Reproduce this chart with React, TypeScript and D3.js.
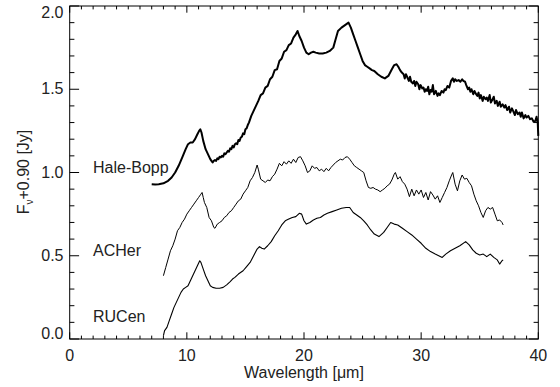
import React from "react";
import * as d3 from "d3";

const haleBoppX = [7.0,7.3,7.6,8.0,8.4,8.7,9.0,9.3,9.6,9.9,10.1,10.3,10.5,10.7,10.9,11.05,11.15,11.25,11.4,11.6,11.8,12.0,12.1,12.2,12.3,12.4,12.5,12.6,12.7,12.8,12.9,13.0,13.1,13.2,13.3,13.4,13.5,13.6,13.7,13.8,13.9,14.0,14.1,14.2,14.3,14.4,14.5,14.6,14.7,14.8,14.9,15.0,15.1,15.2,15.3,15.5,15.7,15.9,16.1,16.3,16.5,16.7,16.9,17.1,17.3,17.5,17.7,17.9,18.1,18.3,18.5,18.7,18.9,19.1,19.3,19.45,19.6,19.8,20.0,20.2,20.4,20.6,20.8,21.0,21.3,21.6,21.9,22.2,22.5,22.7,22.9,23.2,23.5,23.8,24.0,24.2,24.4,24.6,24.8,25.0,25.2,25.4,25.6,25.8,26.0,26.3,26.6,26.9,27.2,27.5,27.7,27.9,28.05,28.2,28.35,28.5,28.6,28.7,28.8,28.95,29.05,29.15,29.3,29.4,29.5,29.6,29.75,29.85,29.95,30.1,30.2,30.3,30.4,30.5,30.6,30.7,30.8,30.9,31.0,31.1,31.25,31.4,31.5,31.6,31.75,31.9,32.0,32.1,32.25,32.4,32.55,32.7,32.8,32.9,33.05,33.2,33.35,33.5,33.6,33.75,33.85,34.0,34.1,34.2,34.3,34.45,34.55,34.65,34.8,34.9,35.0,35.1,35.25,35.35,35.5,35.6,35.7,35.85,35.95,36.1,36.2,36.3,36.45,36.55,36.7,36.8,36.95,37.1,37.2,37.35,37.5,37.6,37.75,37.85,38.0,38.1,38.25,38.4,38.5,38.6,38.75,38.9,39.0,39.15,39.3,39.45,39.6,39.75,39.85,39.95,40.0];
const haleBoppY = [0.93,0.928,0.93,0.935,0.95,0.97,1.0,1.04,1.09,1.14,1.17,1.18,1.18,1.2,1.23,1.25,1.26,1.24,1.19,1.14,1.11,1.08,1.07,1.06,1.07,1.075,1.07,1.085,1.08,1.095,1.09,1.1,1.095,1.115,1.11,1.12,1.13,1.125,1.145,1.14,1.16,1.15,1.17,1.175,1.17,1.195,1.19,1.21,1.215,1.235,1.23,1.26,1.265,1.285,1.3,1.34,1.37,1.4,1.43,1.465,1.475,1.51,1.52,1.56,1.575,1.615,1.62,1.67,1.685,1.725,1.735,1.765,1.775,1.81,1.83,1.85,1.82,1.79,1.75,1.72,1.71,1.72,1.725,1.72,1.715,1.715,1.72,1.73,1.75,1.8,1.85,1.87,1.885,1.9,1.87,1.83,1.79,1.75,1.71,1.67,1.645,1.635,1.625,1.615,1.61,1.59,1.575,1.565,1.58,1.62,1.645,1.65,1.635,1.615,1.6,1.59,1.565,1.59,1.575,1.55,1.575,1.545,1.535,1.55,1.52,1.545,1.53,1.5,1.525,1.505,1.51,1.485,1.5,1.49,1.515,1.47,1.495,1.485,1.525,1.47,1.49,1.46,1.475,1.465,1.49,1.48,1.5,1.495,1.52,1.51,1.55,1.565,1.545,1.56,1.55,1.555,1.545,1.56,1.55,1.545,1.525,1.5,1.51,1.485,1.5,1.47,1.49,1.475,1.46,1.48,1.445,1.465,1.43,1.455,1.44,1.45,1.43,1.465,1.42,1.44,1.455,1.415,1.43,1.4,1.425,1.395,1.41,1.39,1.405,1.375,1.395,1.36,1.385,1.37,1.345,1.375,1.35,1.36,1.335,1.36,1.325,1.345,1.33,1.34,1.32,1.325,1.305,1.31,1.335,1.3,1.22];

const acHerX = [8.0,8.2,8.4,8.6,8.8,9.0,9.2,9.4,9.6,9.8,10.0,10.2,10.4,10.6,10.8,11.0,11.2,11.3,11.4,11.5,11.7,11.9,12.1,12.3,12.4,12.6,12.8,13.0,13.2,13.4,13.6,13.8,14.0,14.2,14.4,14.6,14.8,15.0,15.2,15.4,15.6,15.8,16.0,16.1,16.3,16.5,16.7,16.9,17.1,17.3,17.5,17.7,17.9,18.1,18.3,18.5,18.7,18.9,19.1,19.3,19.5,19.7,19.9,20.1,20.3,20.5,20.7,20.9,21.1,21.3,21.5,21.7,21.9,22.1,22.3,22.5,22.7,22.9,23.1,23.3,23.5,23.7,23.9,24.1,24.3,24.5,24.7,24.9,25.1,25.3,25.5,25.7,25.9,26.1,26.3,26.5,26.7,26.9,27.1,27.3,27.5,27.7,27.8,28.0,28.2,28.4,28.6,28.8,29.0,29.2,29.4,29.6,29.8,30.0,30.2,30.4,30.6,30.8,31.0,31.2,31.4,31.6,31.8,32.0,32.2,32.4,32.6,32.7,32.9,33.1,33.3,33.5,33.7,33.9,34.1,34.3,34.5,34.7,34.9,35.1,35.3,35.5,35.7,35.9,36.1,36.3,36.5,36.7,36.9,37.0];
const acHerY = [0.38,0.43,0.48,0.53,0.56,0.6,0.65,0.67,0.7,0.72,0.75,0.77,0.79,0.81,0.83,0.85,0.87,0.88,0.85,0.82,0.79,0.73,0.71,0.67,0.665,0.69,0.7,0.71,0.73,0.74,0.76,0.77,0.79,0.81,0.83,0.84,0.87,0.89,0.91,0.95,0.97,1.0,1.045,1.02,0.96,0.95,0.94,0.955,0.95,0.975,0.99,1.02,1.055,1.04,1.065,1.05,1.07,1.055,1.08,1.06,1.09,1.095,1.07,1.04,1.0,1.01,1.04,1.025,1.03,1.01,1.02,1.005,1.025,1.01,1.03,1.045,1.06,1.07,1.08,1.075,1.09,1.095,1.08,1.06,1.04,1.03,1.02,1.01,1.0,0.95,0.91,0.905,0.91,0.9,0.895,0.885,0.895,0.905,0.92,0.93,0.955,0.99,1.0,0.96,0.975,0.945,0.93,0.9,0.855,0.9,0.86,0.895,0.87,0.895,0.85,0.88,0.835,0.885,0.865,0.84,0.86,0.82,0.85,0.88,0.91,0.95,0.985,1.0,0.93,0.89,0.95,0.985,0.96,0.965,0.94,0.92,0.87,0.83,0.8,0.76,0.73,0.77,0.79,0.78,0.79,0.75,0.71,0.715,0.7,0.685];

const ruCenX = [8.0,8.1,8.3,8.5,8.7,8.9,9.1,9.3,9.5,9.7,9.9,10.1,10.3,10.5,10.7,10.9,11.1,11.2,11.4,11.6,11.8,12.0,12.2,12.5,12.8,13.1,13.4,13.7,13.9,14.1,14.4,14.8,15.1,15.4,15.7,16.0,16.2,16.4,16.6,16.9,17.2,17.5,17.8,18.1,18.4,18.7,19.0,19.3,19.6,19.8,20.0,20.2,20.5,20.8,21.1,21.4,21.7,22.0,22.4,22.8,23.2,23.6,23.9,24.2,24.5,24.8,25.1,25.4,25.7,26.0,26.4,26.8,27.1,27.4,27.7,28.0,28.4,28.8,29.2,29.6,30.0,30.4,30.8,31.2,31.5,31.8,32.1,32.5,32.9,33.3,33.8,34.1,34.4,34.7,35.0,35.3,35.6,35.9,36.2,36.5,36.7,36.9,37.0];
const ruCenY = [0.02,0.05,0.07,0.11,0.15,0.19,0.22,0.25,0.28,0.3,0.31,0.32,0.35,0.38,0.41,0.44,0.47,0.46,0.42,0.38,0.35,0.32,0.31,0.305,0.305,0.31,0.325,0.345,0.36,0.37,0.39,0.41,0.435,0.46,0.5,0.54,0.555,0.545,0.54,0.56,0.585,0.62,0.65,0.685,0.71,0.72,0.73,0.735,0.755,0.75,0.71,0.69,0.7,0.715,0.725,0.73,0.745,0.755,0.765,0.775,0.785,0.79,0.79,0.76,0.745,0.73,0.71,0.685,0.655,0.63,0.615,0.64,0.67,0.7,0.69,0.685,0.665,0.645,0.625,0.6,0.575,0.545,0.525,0.51,0.5,0.49,0.51,0.53,0.545,0.56,0.585,0.565,0.535,0.515,0.505,0.51,0.495,0.51,0.49,0.475,0.45,0.47,0.475];

const seriesNames = ["Hale-Bopp", "ACHer", "RUCen"];
const seriesLabelY = [1.0, 0.5, 0.1];
const xTickValues = [0, 10, 20, 30, 40];
const yTickValues = [0.0, 0.5, 1.0, 1.5, 2.0];
const xTitle = "Wavelength [μm]";

const W = 560, H = 387;
const L = 69.7, R = 538.3, T = 6, B = 339;
const FONT = "'Liberation Sans', Arial, Helvetica, sans-serif";

export default function App() {
  const x = d3.scaleLinear().domain([0, 40]).range([L, R]);
  const y = d3.scaleLinear().domain([0, 2]).range([B, T]);
  const line = d3.line<[number, number]>().x(d => x(d[0])).y(d => y(d[1]));
  const hb = haleBoppX.map((v, i) => [v, haleBoppY[i]] as [number, number]);
  const ac = acHerX.map((v, i) => [v, acHerY[i]] as [number, number]);
  const ru = ruCenX.map((v, i) => [v, ruCenY[i]] as [number, number]);

  const xMinor = d3.range(0, 41, 1);
  const yMinor = d3.range(0, 2.0001, 0.1);
  const xMajLen = 6.7, xMinLen = 3.4, yMajLen = 9.4, yMinLen = 4.7;

  return (
    <svg width={W} height={H} style={{ position: "absolute", left: 0, top: 0, background: "#fff" }} fontFamily={FONT}>
      <rect x={0} y={0} width={W} height={H} fill="#fff" />
      <g stroke="#000" strokeWidth={1} fill="none">
        <rect x={L} y={T} width={R - L} height={B - T} />
        {xMinor.map(v => {
          const len = v % 10 === 0 ? xMajLen : xMinLen;
          return (
            <g key={"xt" + v}>
              <line x1={x(v)} x2={x(v)} y1={B} y2={B - len} />
              <line x1={x(v)} x2={x(v)} y1={T} y2={T + len} />
            </g>
          );
        })}
        {yMinor.map((v, i) => {
          const len = i % 5 === 0 ? yMajLen : yMinLen;
          return (
            <g key={"yt" + i}>
              <line x1={L} x2={L + len} y1={y(v)} y2={y(v)} />
              <line x1={R} x2={R - len} y1={y(v)} y2={y(v)} />
            </g>
          );
        })}
      </g>
      <g fontSize={16} fill="#222">
        {xTickValues.map(v => (
          <text key={"xl" + v} x={x(v)} y={361} textAnchor="middle">{v}</text>
        ))}
        {yTickValues.map(v => (
          <text key={"yl" + v} x={63.5} y={Math.min(Math.max(y(v) + 5, 17.5), 338.5)} textAnchor="end">{v.toFixed(1)}</text>
        ))}
        <text x={x(20)} y={378} textAnchor="middle">{xTitle}</text>
        <text transform={`translate(29,172) rotate(-90)`} textAnchor="middle">
          F<tspan fontSize={10} dy={4}>ν</tspan><tspan dy={-4}>+0.90 [Jy]</tspan>
        </text>
        {seriesNames.map((n, i) => (
          <text key={n} x={93} y={y(seriesLabelY[i])}>{n}</text>
        ))}
      </g>
      <g fill="none" stroke="#000" strokeLinejoin="round">
        <path d={line(hb) || ""} strokeWidth={2} />
        <path d={line(ac) || ""} strokeWidth={1} />
        <path d={line(ru) || ""} strokeWidth={1.1} />
      </g>
    </svg>
  );
}
